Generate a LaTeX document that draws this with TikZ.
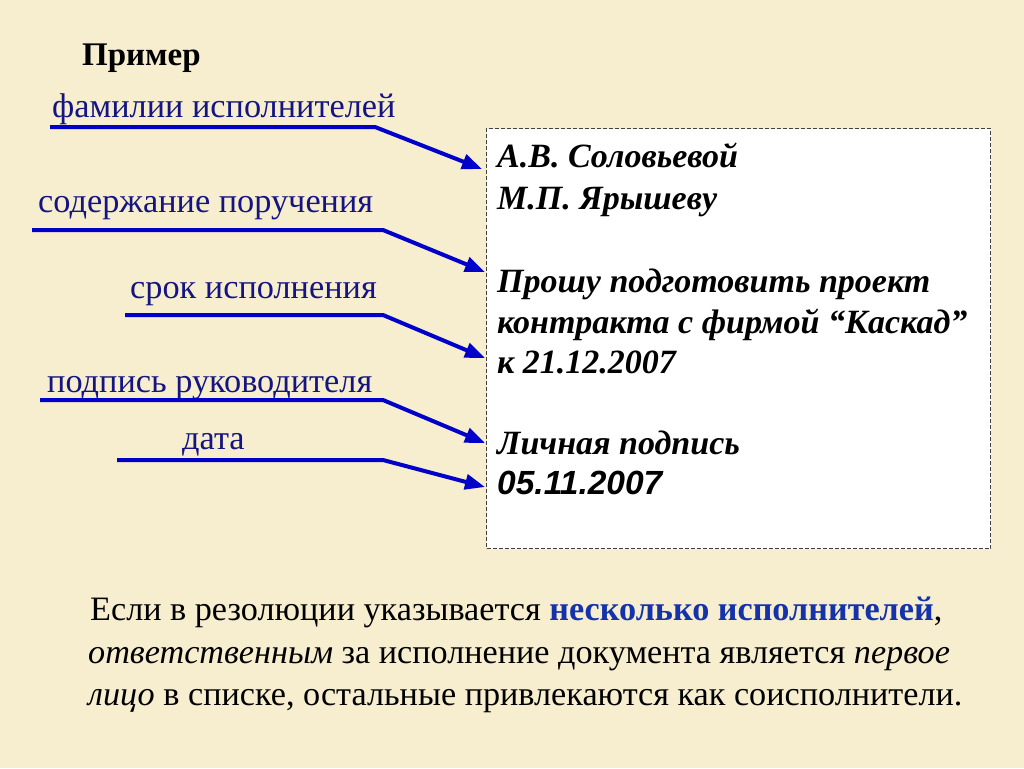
\documentclass[tikz,border=0pt]{standalone}
\usepackage{fontspec}
\setmainfont{Liberation Serif}
\newfontfamily\arial{Liberation Sans}
\usetikzlibrary{arrows.meta}
\definecolor{bg}{RGB}{247,238,208}
\definecolor{navy}{RGB}{20,20,130}
\definecolor{arr}{RGB}{0,0,200}
\definecolor{hl}{RGB}{20,50,170}
\tikzset{
  lbl/.style={anchor=base west, inner sep=0pt, text=navy, font=\fontsize{34.3}{36}\selectfont},
  boxtxt/.style={anchor=base west, inner sep=0pt, font=\fontsize{34}{36}\selectfont\bfseries\itshape},
  bottxt/.style={anchor=base west, inner sep=0pt, font=\fontsize{34.2}{36}\selectfont},
  conn/.style={draw=arr, line width=4pt, -{Triangle[length=20pt,width=15pt]}, line join=miter},
}
\begin{document}
\begin{tikzpicture}[x=1pt,y=-1pt]
\fill[bg] (0,0) rectangle (1024,768);
\useasboundingbox (0,0) rectangle (1024,768);
\node[draw=black!75, dash pattern=on 4pt off 2pt, line width=1pt, fill=white, minimum width=504pt, minimum height=420pt, anchor=north west, inner sep=0pt] (box) at (486,128) {};

\node[anchor=base west, inner sep=0pt, font=\fontsize{33}{35}\selectfont\bfseries] (title) at (82,66) {Пример};

\node[lbl] (l1) at (52,117) {фамилии исполнителей};
\node[lbl] (l2) at (38,212) {содержание поручения};
\node[lbl] (l3) at (130,298) {срок исполнения};
\node[lbl] (l4) at (47,392) {подпись руководителя};
\node[lbl] (l5) at (182,449) {дата};

\node[boxtxt] (t1) at (497,167) {А.В. Соловьевой};
\node[boxtxt] (t2) at (497,209) {М.П. Ярышеву};
\node[boxtxt] (t3) at (497,292) {Прошу подготовить проект};
\node[boxtxt] (t4) at (497,333) {контракта с фирмой “Каскад”};
\node[boxtxt] (t5) at (497,373) {к 21.12.2007};
\node[boxtxt] (t6) at (497,454) {Личная подпись};
\node[anchor=base west, inner sep=0pt, font=\fontsize{33.5}{35}\selectfont\arial\bfseries\itshape] (t7) at (497,494) {05.11.2007};

\coordinate (s1) at (50,127);  \coordinate (b1) at (375,127); \coordinate (e1) at (482,169);
\coordinate (s2) at (32,230);  \coordinate (b2) at (383,230); \coordinate (e2) at (485,272);
\coordinate (s3) at (125,315); \coordinate (b3) at (383,315); \coordinate (e3) at (485,358);
\coordinate (s4) at (40,400);  \coordinate (b4) at (383,400); \coordinate (e4) at (485,443);
\coordinate (s5) at (117,460); \coordinate (b5) at (383,460); \coordinate (e5) at (485,487);
\foreach \i in {1,...,5} {\draw[conn] (s\i) -- (b\i) -- (e\i);}

\node[bottxt] (p1) at (90,620) {Если в резолюции указывается \textcolor{hl}{\bfseries несколько исполнителей},};
\node[bottxt] (p2) at (88,663) {\itshape ответственным\upshape{} за исполнение документа является \itshape первое};
\node[bottxt] (p3) at (88,705) {\itshape лицо\upshape{} в списке, остальные привлекаются как соисполнители.};
\end{tikzpicture}
\end{document}
